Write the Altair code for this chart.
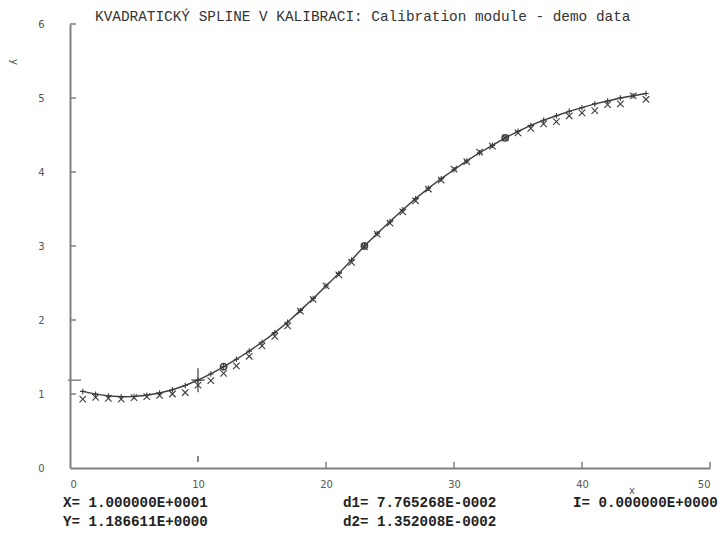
import altair as alt
import pandas as pd

# ---- data ----
x_vals = list(range(1, 46))
measured = [0.93, 0.955, 0.94, 0.93, 0.95, 0.965, 0.98, 1.00, 1.02, 1.12,
            1.18, 1.28, 1.38, 1.51, 1.65, 1.78, 1.92, 2.12, 2.28, 2.46,
            2.61, 2.78, 2.99, 3.16, 3.31, 3.46, 3.61, 3.77, 3.89, 4.04,
            4.14, 4.27, 4.35, 4.46, 4.53, 4.59, 4.65, 4.68, 4.76, 4.80,
            4.83, 4.91, 4.92, 5.03, 4.98]
spline = [1.035, 0.998, 0.974, 0.963, 0.967, 0.983, 1.014, 1.058, 1.115, 1.187,
          1.271, 1.368, 1.47, 1.58, 1.70, 1.83, 1.97, 2.13, 2.29, 2.46,
          2.63, 2.81, 3.00, 3.17, 3.33, 3.49, 3.64, 3.78, 3.91, 4.03,
          4.15, 4.26, 4.36, 4.46, 4.55, 4.63, 4.70, 4.76, 4.82, 4.87,
          4.92, 4.96, 5.00, 5.03, 5.06]
knots_x = [12, 23, 34]
knots_y = [1.368, 3.00, 4.46]
cursor_x = [10.0]
cursor_y = [1.186611]
x_tick_vals = [0, 10, 20, 30, 40, 50]
y_tick_vals = [0, 1, 2, 3, 4, 5, 6]
x_inner_ticks = [20, 30, 40, 50]
y_inner_ticks = [1, 2, 3, 4, 5, 6]

title_text = ["KVADRATICKÝ SPLINE V KALIBRACI: Calibration module - demo data"]
info_texts = ["X= 1.000000E+0001", "Y= 1.186611E+0000",
              "d1= 7.765268E-0002", "d2= 1.352008E-0002",
              "I= 0.000000E+0000"]

W, H = 640, 444
INK = "#3c3c3c"
AXC = "#808080"

xscale = alt.Scale(domain=[0, 50], nice=False, zero=False)
yscale = alt.Scale(domain=[0, 6], nice=False, zero=False)

df = pd.DataFrame({"x": x_vals, "m": measured, "s": spline})
kn = pd.DataFrame({"x": knots_x, "y": knots_y})
cur = pd.DataFrame({"x": cursor_x, "y": cursor_y})

x_axis = alt.Axis(values=x_tick_vals, grid=False, ticks=False, domain=True,
                  domainColor=AXC, domainWidth=2, labelFont="DejaVu Sans",
                  labelFontSize=10, labelColor="#555555", labelPadding=11,
                  title=None, format="d")
y_axis = alt.Axis(values=y_tick_vals, grid=False, ticks=False, domain=True,
                  domainColor=AXC, domainWidth=2, labelFont="DejaVu Sans",
                  labelFontSize=10, labelColor="#555555", labelPadding=26,
                  title=None, format="d")


def X(field):
    return alt.X(field, scale=xscale, axis=x_axis)


def Y(field):
    return alt.Y(field, scale=yscale, axis=y_axis)


line = alt.Chart(df).mark_line(color=INK, strokeWidth=1.4).encode(
    x=X("x:Q"), y=Y("s:Q"))

plus_path = "M-1,0L1,0M0,-1L0,1"
x_path = "M-1,-1L1,1M-1,1L1,-1"

spline_pts = alt.Chart(df).mark_point(shape=plus_path, filled=False, color=INK,
                                      strokeWidth=1.1, size=30, opacity=1).encode(
    x=X("x:Q"), y=Y("s:Q"))

meas_pts = alt.Chart(df).mark_point(shape=x_path, filled=False, color=INK,
                                    strokeWidth=1.1, size=42, opacity=1).encode(
    x=X("x:Q"), y=Y("m:Q"))

knot_pts = alt.Chart(kn).mark_point(shape="circle", filled=False, color=INK,
                                    strokeWidth=1.5, size=40, opacity=1).encode(
    x=X("x:Q"), y=Y("y:Q"))

cross_path = "M-0.55,0L0.55,0M0,-1L0,1"
cursor_mark = alt.Chart(cur).mark_point(shape=cross_path, filled=False, color=INK,
                                        strokeWidth=1.2, size=576, opacity=1).encode(
    x=X("x:Q"), y=Y("y:Q"))

cursor_xtick = alt.Chart(cur).mark_rule(color=INK, strokeWidth=1.2).encode(
    x=X("x:Q"), y=alt.value(H - 12), y2=alt.value(H - 6))
cursor_ytick = alt.Chart(cur).mark_rule(color=AXC, strokeWidth=1.5).encode(
    y=Y("y:Q"), x=alt.value(-2), x2=alt.value(11))

xt = alt.Chart(pd.DataFrame({"t": x_inner_ticks})).mark_rule(color=AXC, strokeWidth=1.5).encode(
    x=X("t:Q"), y=alt.value(H), y2=alt.value(H - 6))
yt = alt.Chart(pd.DataFrame({"t": y_inner_ticks})).mark_rule(color=AXC, strokeWidth=1.5).encode(
    y=Y("t:Q"), x=alt.value(0), x2=alt.value(6))

title = alt.Chart(pd.DataFrame({"t": title_text})).mark_text(
    align="left", baseline="middle", font="Liberation Mono", fontSize=14.4,
    color="#333333").encode(text="t:N", x=alt.value(25), y=alt.value(-7))

info_df = pd.DataFrame({"t": info_texts})
info_pos = [(-7, 479), (-7, 498), (273, 479), (273, 498), (503, 479)]
info_layers = []
for i, (px, py) in enumerate(info_pos):
    info_layers.append(
        alt.Chart(info_df.iloc[[i]]).mark_text(
            align="left", baseline="middle", font="Liberation Mono",
            fontSize=14.2, fontWeight="bold", color="#222222").encode(
            text="t:N", x=alt.value(px), y=alt.value(py))
    )

xlab = alt.Chart(pd.DataFrame({"t": ["x"]})).mark_text(
    align="center", baseline="middle", font="DejaVu Sans", fontSize=10,
    color="#555555").encode(text="t:N", x=alt.value(562), y=alt.value(467))
ylab = alt.Chart(pd.DataFrame({"t": ["y"]})).mark_text(
    align="center", baseline="middle", font="DejaVu Sans", fontSize=10,
    color="#555555", angle=90).encode(text="t:N", x=alt.value(-56), y=alt.value(38))

chart = alt.layer(
    line, spline_pts, meas_pts, knot_pts, cursor_mark, cursor_xtick, cursor_ytick,
    xt, yt, title, xlab, ylab, *info_layers
).properties(
    width=W, height=H,
    autosize=alt.AutoSizeParams(type="none"),
    padding={"left": 62, "top": 16, "right": 10, "bottom": 62},
    background="white",
).configure_view(stroke=None)

chart.save("out.html", embed_options={"renderer": "svg", "actions": False})
